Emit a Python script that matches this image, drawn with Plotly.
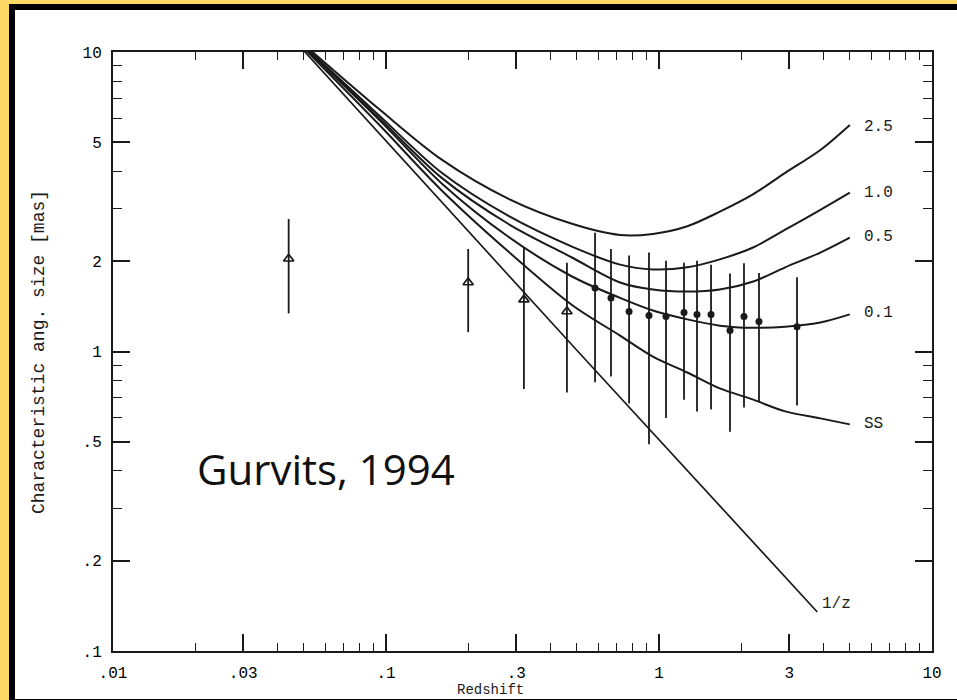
import plotly.graph_objects as go

# ---------------- data ----------------
curve_z = [0.05, 0.095, 0.16, 0.28, 0.48, 0.72, 0.95, 1.27, 1.67, 2.2, 2.9, 3.9, 5.0]
theta_25 = [10.6, 6.41, 4.37, 3.24, 2.67, 2.45, 2.47, 2.62, 2.93, 3.34, 3.95, 4.71, 5.71]
theta_10 = [10.5, 6.10, 3.95, 2.84, 2.24, 1.95, 1.88, 1.91, 2.03, 2.22, 2.55, 2.97, 3.39]
theta_05 = [10.4, 5.98, 3.80, 2.67, 2.06, 1.70, 1.61, 1.585, 1.61, 1.71, 1.91, 2.14, 2.40]
theta_01 = [10.4, 5.90, 3.64, 2.42, 1.78, 1.51, 1.37, 1.28, 1.22, 1.20, 1.21, 1.25, 1.33]
theta_ss = [10.3, 5.68, 3.45, 2.16, 1.43, 1.13, 0.962, 0.851, 0.753, 0.692, 0.631, 0.598, 0.571]
curve_names = ["2.5", "1.0", "0.5", "0.1", "SS"]

invz_z = [0.05, 0.5, 3.8]
invz_theta = [10.1, 1.01, 0.135]

tri_z = [0.044, 0.20, 0.32, 0.46]
tri_theta = [2.04, 1.70, 1.49, 1.36]
tri_hi = [2.77, 2.20, 2.22, 1.98]
tri_lo = [1.34, 1.16, 0.75, 0.73]

dot_z = [0.583, 0.667, 0.777, 0.919, 1.061, 1.235, 1.378, 1.551, 1.820, 2.048, 2.324, 3.203]
dot_theta = [1.63, 1.51, 1.36, 1.32, 1.31, 1.35, 1.33, 1.33, 1.175, 1.31, 1.26, 1.21]
dot_hi = [2.49, 2.20, 2.09, 2.14, 2.01, 1.98, 2.01, 1.95, 1.82, 1.97, 1.83, 1.77]
dot_lo = [0.79, 0.825, 0.67, 0.49, 0.60, 0.69, 0.63, 0.64, 0.54, 0.65, 0.68, 0.66]

x_tickvals = [0.01, 0.03, 0.1, 0.3, 1, 3, 10]
x_ticktext = [".01", ".03", ".1", ".3", "1", "3", "10"]
x_minor = [0.02, 0.04, 0.05, 0.06, 0.07, 0.08, 0.09,
           0.2, 0.4, 0.5, 0.6, 0.7, 0.8, 0.9,
           2, 4, 5, 6, 7, 8, 9]
y_tickvals = [0.1, 0.2, 0.5, 1, 2, 5, 10]
y_ticktext = [".1", ".2", ".5", "1", "2", "5", "10"]
y_minor = [0.3, 0.4, 0.6, 0.7, 0.8, 0.9, 3, 4, 6, 7, 8, 9]

# label anchor positions (log10 units)
label_x = 0.744
label_y = [0.75, 0.53, 0.383, 0.13, -0.243]

# ---------------- figure ----------------
W, H = 957, 700
ML, MR, MT, MB = 113, 25, 52, 49
PW, PH = W - ML - MR, H - MT - MB
INK = "#1a1a1a"
MONO = "Liberation Mono, DejaVu Sans Mono, monospace"


def px_x(p):
    return (p - ML) / PW


def px_y(p):
    return (H - MB - p) / PH


fig = go.Figure()

for th in [theta_25, theta_10, theta_05, theta_01, theta_ss]:
    fig.add_trace(go.Scatter(x=curve_z, y=th, mode="lines",
                             line=dict(color=INK, width=2, shape="spline", smoothing=0.9),
                             hoverinfo="skip", showlegend=False))

fig.add_trace(go.Scatter(x=invz_z, y=invz_theta, mode="lines",
                         line=dict(color=INK, width=1.7),
                         hoverinfo="skip", showlegend=False))

fig.add_trace(go.Scatter(
    x=tri_z, y=tri_theta, mode="markers",
    marker=dict(symbol="triangle-up-open", size=9, color=INK, line=dict(width=1.7, color=INK)),
    error_y=dict(type="data", symmetric=False,
                 array=[h - v for h, v in zip(tri_hi, tri_theta)],
                 arrayminus=[v - l for v, l in zip(tri_theta, tri_lo)],
                 width=0, thickness=1.8, color=INK),
    showlegend=False))

fig.add_trace(go.Scatter(
    x=dot_z, y=dot_theta, mode="markers",
    marker=dict(symbol="circle", size=7, color=INK),
    error_y=dict(type="data", symmetric=False,
                 array=[h - v for h, v in zip(dot_hi, dot_theta)],
                 arrayminus=[v - l for v, l in zip(dot_theta, dot_lo)],
                 width=0, thickness=1.8, color=INK),
    showlegend=False))

axis_common = dict(
    type="log", showgrid=False, zeroline=False,
    showline=True, linewidth=2, linecolor=INK, mirror="allticks",
    ticks="inside", ticklen=17, tickwidth=1.6, tickcolor=INK,
    tickfont=dict(family=MONO, size=16, color="#000"),
)

fig.update_xaxes(range=[-2, 1], tickmode="array", tickvals=x_tickvals, ticktext=x_ticktext,
                 minor=dict(tickmode="array", tickvals=x_minor, ticks="inside", ticklen=8,
                            tickwidth=1.3, tickcolor=INK, showgrid=False),
                 ticklabelstandoff=6, **axis_common)
fig.update_yaxes(range=[-1, 1], tickmode="array", tickvals=y_tickvals, ticktext=y_ticktext,
                 minor=dict(tickmode="array", tickvals=y_minor, ticks="inside", ticklen=9,
                            tickwidth=1.3, tickcolor=INK, showgrid=False),
                 ticklabelstandoff=6, **axis_common)

annotations = []
for name, ly in zip(curve_names, label_y):
    annotations.append(dict(x=label_x, y=ly, xref="x", yref="y", text=name, showarrow=False,
                            xanchor="left", yanchor="middle",
                            font=dict(family=MONO, size=16, color="#1a1a1a")))
annotations.append(dict(x=0.59, y=-0.843, xref="x", yref="y", text="1/z", showarrow=False,
                        xanchor="left", yanchor="middle",
                        font=dict(family=MONO, size=16, color="#1a1a1a")))
annotations.append(dict(x=px_x(326), y=px_y(468), xref="paper", yref="paper",
                        text="Gurvits, 1994", showarrow=False, xanchor="center", yanchor="middle",
                        font=dict(family="Open Sans, Noto Sans, sans-serif", size=42, color="#111")))
annotations.append(dict(x=px_x(39), y=px_y(352), xref="paper", yref="paper",
                        text="Characteristic ang. size [mas]", textangle=-90, showarrow=False,
                        xanchor="center", yanchor="middle",
                        font=dict(family=MONO, size=18, color="#1a1a1a")))
annotations.append(dict(x=px_x(490), y=px_y(690), xref="paper", yref="paper",
                        text="Redshift", showarrow=False, xanchor="center", yanchor="middle",
                        font=dict(family=MONO, size=14, color="#1a1a1a")))

shapes = [dict(type="rect", xref="paper", yref="paper", layer="below",
               x0=px_x(12), x1=px_x(975), y0=px_y(7), y1=px_y(702),
               fillcolor="white", line=dict(color="black", width=6))]

fig.update_layout(
    width=W, height=H, margin=dict(l=ML, r=MR, t=MT, b=MB),
    paper_bgcolor="#FFD966", plot_bgcolor="white",
    annotations=annotations, shapes=shapes, showlegend=False,
)

fig.write_html("out.html")
